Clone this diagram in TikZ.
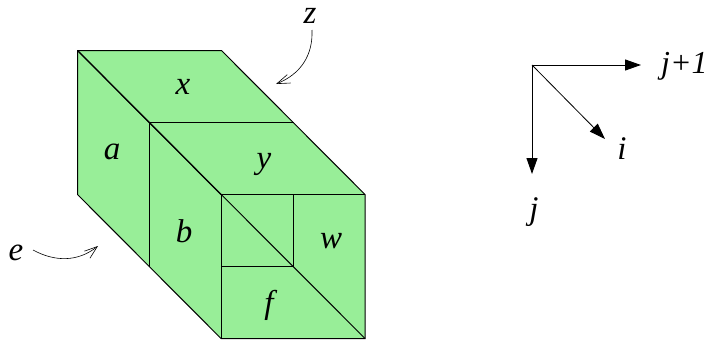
\documentclass[tikz,border=0pt]{standalone}
\usepackage{fontspec}
\setmainfont{Liberation Serif}
\usetikzlibrary{arrows.meta}
\definecolor{boxgreen}{RGB}{152,238,152}
\tikzset{
  edge/.style={draw=black,line width=1pt,line join=miter},
  face/.style={fill=boxgreen,draw=none},
  lbl/.style={inner sep=0pt,font=\fontsize{33}{33}\selectfont\itshape},
  axis/.style={draw=black,line width=1pt,-{Stealth[length=16pt,width=11pt,inset=0pt]}},
  curved/.style={draw=black,line width=0.6pt,-{Straight Barb[length=13pt,width=9pt]}}
}
\begin{document}
\begin{tikzpicture}[x=1pt,y=-1pt]
\useasboundingbox (0,0) rectangle (708,340);
\coordinate (A) at (77.5,50.5);
\coordinate (B) at (221.5,50.5);
\coordinate (C) at (293.5,122.5);
\coordinate (D) at (365,194.5);
\coordinate (E) at (365,338.5);
\coordinate (F) at (221,338.5);
\coordinate (G) at (77.5,194.5);
\coordinate (H) at (149.5,122.5);
\coordinate (I) at (221,194.5);
\coordinate (J) at (149.5,266.5);
\coordinate (K) at (293.5,194.5);
\coordinate (L) at (293.5,266.5);
\coordinate (M) at (221,266.5);
\path[face] (A)--(B)--(D)--(E)--(F)--(G)--cycle;
\draw[edge] (A)--(B)--(D)--(E)--(F)--(G)--cycle;
\draw[edge] (A)--(E);
\draw[edge,line width=1.2pt] (A)--(I);
\draw[edge] (H)--(C);
\draw[edge] (H)--(J);
\draw[edge] (I)--(D);
\draw[edge] (I)--(F);
\draw[edge] (K)--(L)--(M);
\node[lbl] (x) at (183,87) {x};
\node[lbl] (y) at (264,164) {y};
\node[lbl] (a) at (112,152) {a};
\node[lbl] (b) at (184,231) {b};
\node[lbl] (w) at (331,241) {w};
\node[lbl] (f) at (269,305) {f};
\node[lbl] (z) at (310,16) {z};
\node[lbl] (e) at (16,253) {e};
\coordinate (zs) at (312,30);
\coordinate (zt) at (276,84);
\coordinate (es) at (33,250);
\coordinate (et) at (98,246);
\draw[curved] (zs) .. controls (313,55) and (301,74) .. (zt);
\draw[curved] (es) .. controls (55,262) and (78,262) .. (et);
\coordinate (O) at (532,65);
\coordinate (P) at (641,65);
\coordinate (Q) at (532,174);
\coordinate (R) at (605,139);
\draw[axis] (O)--(P);
\draw[axis] (O)--(Q);
\draw[axis,line width=0.8pt] (O)--(R);
\node[lbl,anchor=west,font=\fontsize{32}{32}\selectfont\itshape] (jp) at (661,66) {j+1};
\node[lbl] (i) at (622,149) {i};
\node[lbl] (j) at (534,212) {j};
\end{tikzpicture}
\end{document}
